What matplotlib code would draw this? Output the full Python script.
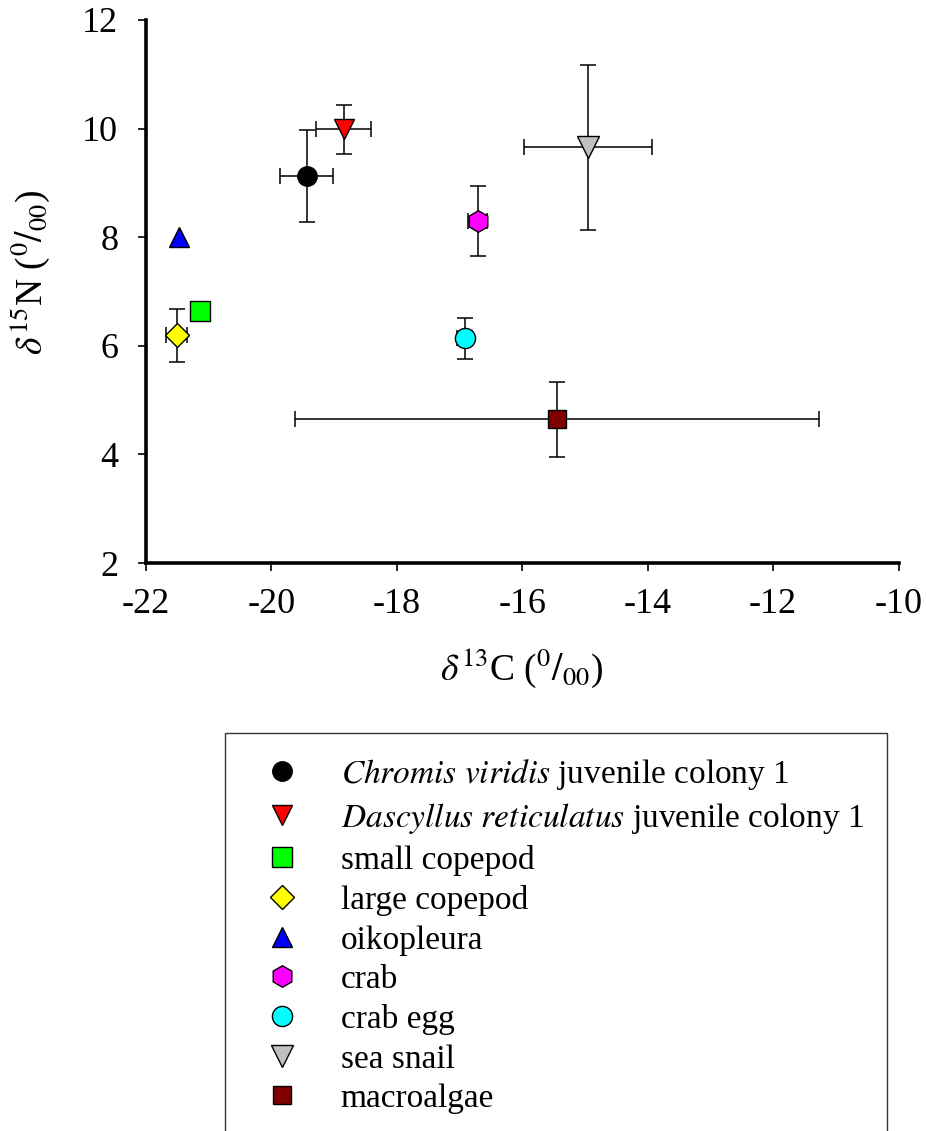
import matplotlib
matplotlib.use("Agg")
import matplotlib.pyplot as plt

plt.rcParams['font.family'] = ['Liberation Serif', 'DejaVu Serif']
plt.rcParams['mathtext.fontset'] = 'stix'
plt.rcParams['axes.unicode_minus'] = False

# stable isotope means and standard deviations per group
labels = [r'$\mathit{Chromis\ viridis}$ juvenile colony 1',
          r'$\mathit{Dascyllus\ reticulatus}$ juvenile colony 1',
          'small copepod', 'large copepod', 'oikopleura',
          'crab', 'crab egg', 'sea snail', 'macroalgae']
d13c = [-19.44, -18.85, -21.14, -21.51, -21.47, -16.71, -16.92, -14.95, -15.45]
d15n = [9.13, 9.99, 6.65, 6.19, 8.00, 8.30, 6.14, 9.66, 4.65]
d13c_sd = [0.43, 0.44, None, 0.17, None, 0.15, 0.12, 1.02, 4.18]
d15n_sd = [0.85, 0.45, None, 0.48, None, 0.64, 0.38, 1.52, 0.69]

markers = ['o', 'v', 's', 'D', '^', 'h', 'o', 'v', 's']
colors = ['#000000', '#ff0000', '#00ff00', '#ffff00', '#0000ff',
          '#ff00ff', '#00ffff', '#c0c0c0', '#800000']
sizes = [14, 15, 14.5, 12.5, 15, 15.5, 14.5, 16, 13.5]

fig = plt.figure(figsize=(9.26, 11.31), dpi=100)
ax = fig.add_axes([146 / 926, 1 - 563 / 1131, (898.5 - 146) / 926, (563 - 20) / 1131])

for i in range(len(labels)):
    if d13c_sd[i] is not None:
        ax.errorbar(d13c[i], d15n[i], xerr=d13c_sd[i], yerr=d15n_sd[i],
                    fmt='none', ecolor='black', elinewidth=1.1,
                    capsize=5.8, capthick=1.1, zorder=2)
    ax.plot(d13c[i], d15n[i], linestyle='none', marker=markers[i],
            markersize=sizes[i], markerfacecolor=colors[i],
            markeredgecolor='black', markeredgewidth=1.0,
            label=labels[i], zorder=3)

ax.set_xlim(-22, -10)
ax.set_ylim(2, 12)
ax.set_xticks(range(-22, -9, 2))
ax.set_yticks(range(2, 13, 2))
for side in ['top', 'right']:
    ax.spines[side].set_visible(False)
for side in ['left', 'bottom']:
    ax.spines[side].set_linewidth(2.6)
ax.tick_params(direction='out', length=6, width=1.2, labelsize=26)
ax.tick_params(axis='x', pad=12)
ax.tick_params(axis='y', pad=14)

ax.set_xlabel(r'$\delta^{13}$C ($^{0}/_{00}$)', fontsize=27, labelpad=18)
ax.set_ylabel(r'$\delta^{15}$N ($^{0}/_{00}$)', fontsize=27)
ax.yaxis.set_label_coords(-0.125, 0.536)

leg = fig.legend(loc='upper left', bbox_to_anchor=(225 / 926, 1 - 733 / 1131),
                 frameon=True, fancybox=False, edgecolor='black',
                 fontsize=24, borderaxespad=0, borderpad=0.72,
                 handlelength=2.0, handletextpad=0.75, labelspacing=0.27,
                 markerscale=1.0)
leg.get_frame().set_linewidth(1.0)

fig.savefig('out.png', dpi=100, facecolor='white')
